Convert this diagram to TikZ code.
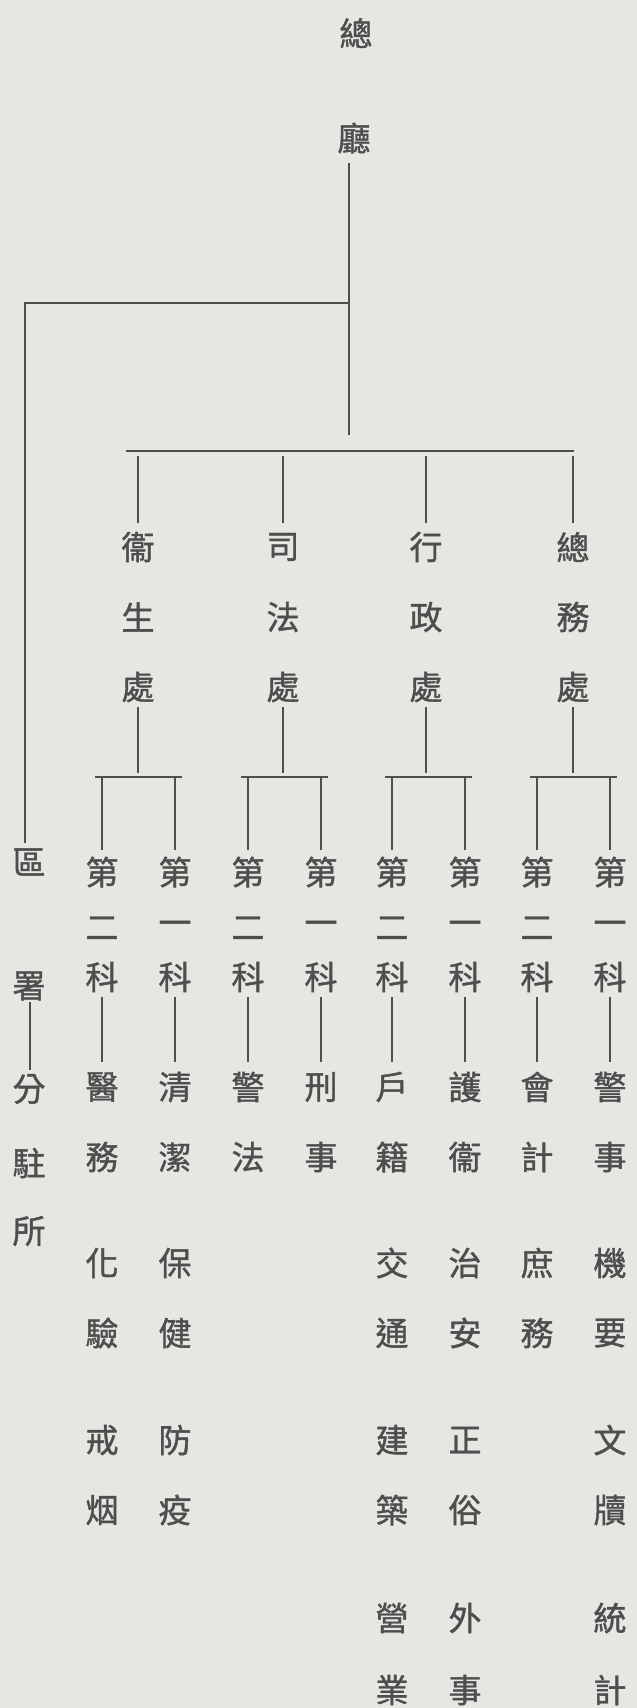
\documentclass[tikz,border=0pt]{standalone}
\usepackage{fontspec}
\usetikzlibrary{calc}
\newfontfamily\cjk[FakeBold=1.2]{Noto Sans CJK TC}
\definecolor{paper}{HTML}{E6E6E2}
\definecolor{ink}{HTML}{4E4E4E}
\begin{document}
\begin{tikzpicture}[x=1pt,y=-1pt,
  ch/.style={font=\cjk\fontsize{33}{33}\selectfont, text=ink, inner sep=0pt, anchor=center},
  ln/.style={draw=ink, line width=1.2pt}]
\fill[paper] (0,0) rectangle (637,1708);
\useasboundingbox (0,0) rectangle (637,1708);

% top
\node[ch] (z1) at (356,33) {總};
\node[ch] (z2) at (354,138) {廳};

% departments
\foreach \x/\a/\b/\i in {138/衞/生/1, 283/司/法/2, 426/行/政/3, 573/總/務/4}{
  \node[ch] (d\i a) at (\x,547) {\a};
  \node[ch] (d\i b) at (\x,617) {\b};
  \node[ch] (d\i c) at (\x,687) {處};
}

% sections
\foreach \x/\n/\i in {102/二/1, 175/一/2, 248/二/3, 321/一/4, 392/二/5, 465/一/6, 537/二/7, 610/一/8}{
  \node[ch] (s\i a) at (\x,872) {第};
  \node[ch] (s\i b) at (\x,928) {\n};
  \node[ch] (s\i c) at (\x,977) {科};
}

% items
\foreach \c/\y [count=\k] in {醫/1087,務/1157,化/1263,驗/1333,戒/1440,烟/1510}
  {\node[ch] (c1r\k) at (102,\y) {\c};}
\foreach \c/\y [count=\k] in {清/1087,潔/1157,保/1263,健/1333,防/1440,疫/1510}
  {\node[ch] (c2r\k) at (175,\y) {\c};}
\foreach \c/\y [count=\k] in {警/1087,法/1157}
  {\node[ch] (c3r\k) at (248,\y) {\c};}
\foreach \c/\y [count=\k] in {刑/1087,事/1157}
  {\node[ch] (c4r\k) at (321,\y) {\c};}
\foreach \c/\y [count=\k] in {戶/1087,籍/1157,交/1263,通/1333,建/1440,築/1510,營/1618,業/1690}
  {\node[ch] (c5r\k) at (392,\y) {\c};}
\foreach \c/\y [count=\k] in {護/1087,衞/1157,治/1263,安/1333,正/1440,俗/1510,外/1618,事/1690}
  {\node[ch] (c6r\k) at (465,\y) {\c};}
\foreach \c/\y [count=\k] in {會/1087,計/1157,庶/1263,務/1333}
  {\node[ch] (c7r\k) at (537,\y) {\c};}
\foreach \c/\y [count=\k] in {警/1087,事/1157,機/1263,要/1333,文/1440,牘/1510,統/1618,計/1690}
  {\node[ch] (c8r\k) at (610,\y) {\c};}

% district column
\node[ch] (q1) at (29,862) {區};
\node[ch] (q2) at (29,986) {署};
\node[ch] (q3) at (29,1089) {分};
\node[ch] (q4) at (29,1163) {駐};
\node[ch] (q5) at (29,1231) {所};

% connectors
\coordinate (st) at (349,435);
\coordinate (lb) at (349,303);
\coordinate (lc) at (25,303);
\draw[ln] ($(z2.south -| st)+(0,9)$) -- (st);
\draw[ln] (lb) -- (lc) -- ($(q1.north -| lc)+(0,-5)$);
\coordinate (b0) at (126,451);
\coordinate (b1) at (574,451);
\draw[ln] (b0) -- (b1);
\foreach \i in {1,2,3,4}{
  \draw[ln] ($(d\i a)+(0,-91)$) -- ($(d\i a)+(0,-24)$);
  \draw[ln] ($(d\i c)+(0,20)$) -- ($(d\i c)+(0,86)$);
}
\foreach \l/\r in {1/2,3/4,5/6,7/8}{
  \draw[ln] ($(s\l a)+(-7,-95)$) -- ($(s\r a)+(7,-95)$);
  \draw[ln] ($(s\l a)+(0,-95)$) -- ($(s\l a)+(0,-22)$);
  \draw[ln] ($(s\r a)+(0,-95)$) -- ($(s\r a)+(0,-22)$);
}
\foreach \i in {1,...,8}{
  \draw[ln] ($(s\i c)+(0,20)$) -- ($(c\i r1)+(0,-25)$);
}
\draw[ln] ($(q2)+(1,16)$) -- ($(q3)+(1,-19)$);
\end{tikzpicture}
\end{document}
